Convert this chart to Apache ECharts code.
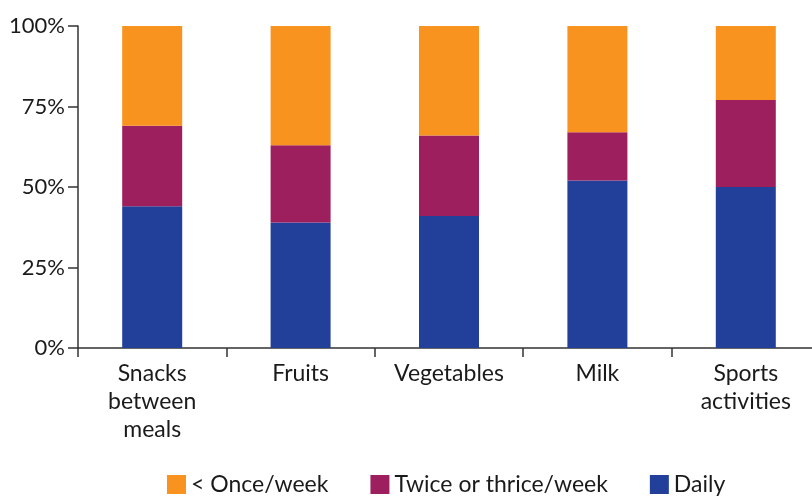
<!DOCTYPE html>
<html>
<head>
<meta charset="utf-8">
<script src="https://cdn.jsdelivr.net/npm/echarts@6/dist/echarts.min.js"></script>
<style>
  html, body { margin: 0; padding: 0; background: #fff; overflow: hidden; }
  #chart { width: 822px; height: 498px; }
</style>
</head>
<body>
<div id="chart"></div>
<script>
// 数据
var categories = ['Snacks\nbetween\nmeals', 'Fruits', 'Vegetables', 'Milk', 'Sports\nactivities'];
var daily = [44, 39, 41, 52, 50];
var twiceThrice = [25, 24, 25, 15, 27];
var lessOnce = [31, 37, 34, 33, 23];
var yTicks = [0, 25, 50, 75, 100];

var font = 'Lato';
var myChart = echarts.init(document.getElementById('chart'));

var option = {
    animation: false,
    textStyle: { fontFamily: font },
    grid: { left: 78, width: 742, top: 26, height: 322 },
    legend: {
        top: 468,
        left: 162,
        itemWidth: 19,
        itemHeight: 19,
        itemGap: 42,
        icon: 'rect',
        data: ['< Once/week', 'Twice or thrice/week', 'Daily'],
        textStyle: { fontFamily: font, fontSize: 23, color: '#1a1a1a' }
    },
    xAxis: {
        type: 'category',
        data: categories,
        axisLine: { lineStyle: { color: '#333', width: 1.5 } },
        axisTick: { show: true, alignWithLabel: false, length: 9, lineStyle: { color: '#333', width: 1.5 } },
        axisLabel: { fontFamily: font, fontSize: 23, color: '#1a1a1a', lineHeight: 28, margin: 12, interval: 0 }
    },
    yAxis: {
        type: 'value',
        min: 0,
        max: 100,
        interval: 25,
        splitLine: { show: false },
        axisLine: { show: true, lineStyle: { color: '#333', width: 1.5 } },
        axisTick: { show: true, length: 10, lineStyle: { color: '#333', width: 1.5 } },
        axisLabel: {
            fontFamily: font, fontSize: 22, color: '#1a1a1a', margin: 13,
            formatter: function (v) { return yTicks.indexOf(v) >= 0 ? v + '%' : ''; }
        }
    },
    series: [
        { name: 'Daily', type: 'bar', stack: 'a', barWidth: 60, data: daily, itemStyle: { color: '#22409A' } },
        { name: 'Twice or thrice/week', type: 'bar', stack: 'a', data: twiceThrice, itemStyle: { color: '#9E1F5E' } },
        { name: '< Once/week', type: 'bar', stack: 'a', data: lessOnce, itemStyle: { color: '#F7931E' } }
    ]
};

myChart.setOption(option);
</script>
</body>
</html>
